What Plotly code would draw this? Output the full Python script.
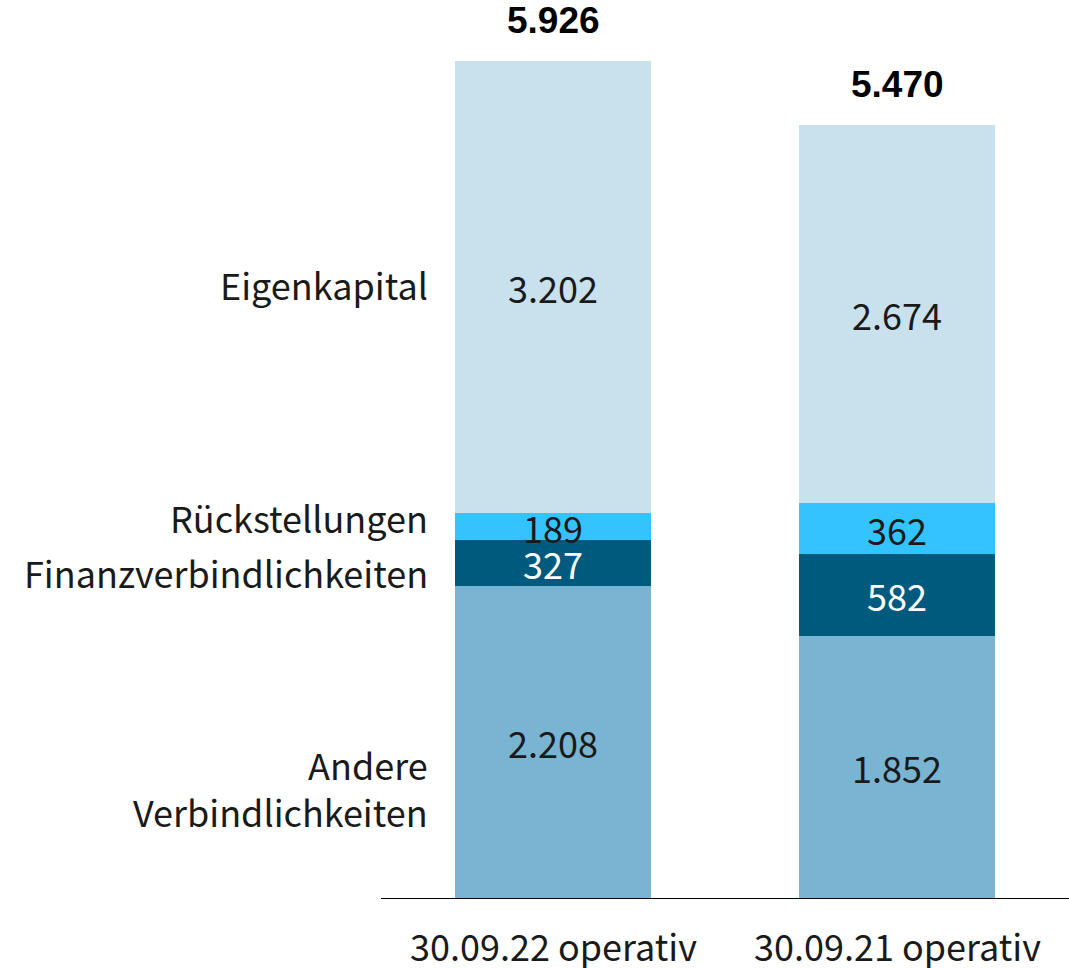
import plotly.graph_objects as go

categories = ["30.09.22 operativ", "30.09.21 operativ"]
series_names = ["Andere Verbindlichkeiten", "Finanzverbindlichkeiten", "Rückstellungen", "Eigenkapital"]
andere = [2208, 1852]
finanz = [327, 582]
rueck = [189, 362]
eigen = [3202, 2674]
totals = [5926, 5470]
left_labels = ["Andere<br>Verbindlichkeiten", "Finanzverbindlichkeiten", "Rückstellungen", "Eigenkapital"]

colors = ["#79B4D2", "#005A7D", "#33C4FF", "#C9E1ED"]
text_colors = ["#1a1a1a", "white", "#1a1a1a", "#1a1a1a"]
FONT = "Noto Sans CJK JP, Liberation Sans"
FS = 36

def fmt(v):
    return f"{v:,}".replace(",", ".")

fig = go.Figure()
x = [0, 1]
for name, vals, c, tc in zip(series_names, [andere, finanz, rueck, eigen], colors, text_colors):
    fig.add_trace(go.Bar(
        x=x, y=vals, name=name, marker=dict(color=c, line=dict(width=0)),
        text=[fmt(v) for v in vals], textposition="inside", insidetextanchor="middle",
        textfont=dict(family=FONT, size=FS, color=tc), constraintext="none",
        textangle=0, hoverinfo="skip",
    ))

annotations = []
for i, t in enumerate(totals):
    annotations.append(dict(x=i, y=t, xref="x", yref="y", text=f"<b>{fmt(t)}</b>",
                            showarrow=False, yanchor="bottom", yshift=18,
                            font=dict(family="Liberation Sans, Arial", size=37, color="black")))
for i, c in enumerate(categories):
    annotations.append(dict(x=i, y=0, xref="x", yref="paper", text=c, showarrow=False,
                            yanchor="top", yshift=-19,
                            font=dict(family=FONT, size=FS, color="#1a1a1a")))
b = [0, andere[0], andere[0] + finanz[0], andere[0] + finanz[0] + rueck[0], totals[0]]
mids = [(b[0] + b[1]) / 2, (b[1] + b[2]) / 2, (b[2] + b[3]) / 2, (b[3] + b[4]) / 2]
shifts = [-45, -9, 10, 3]
for lbl, m, s in zip(left_labels, mids, shifts):
    annotations.append(dict(x=-0.5, y=m, xref="x", yref="y", text=lbl, showarrow=False,
                            xanchor="right", align="right", xshift=49, yshift=s,
                            font=dict(family=FONT, size=FS, color="#1a1a1a")))

fig.update_layout(
    width=1069, height=968, barmode="stack", bargap=0.43,
    margin=dict(l=381, r=0, t=0, b=70),
    paper_bgcolor="white", plot_bgcolor="white", showlegend=False,
    annotations=annotations,
)
fig.update_xaxes(range=[-0.5, 1.5], showticklabels=False, showline=True, linecolor="black",
                 linewidth=1, showgrid=False, zeroline=False, ticks="")
fig.update_yaxes(range=[0, 6358], visible=False)
fig.write_html("out.html", config={"displayModeBar": False},
               post_script="document.body.style.margin='0';")
